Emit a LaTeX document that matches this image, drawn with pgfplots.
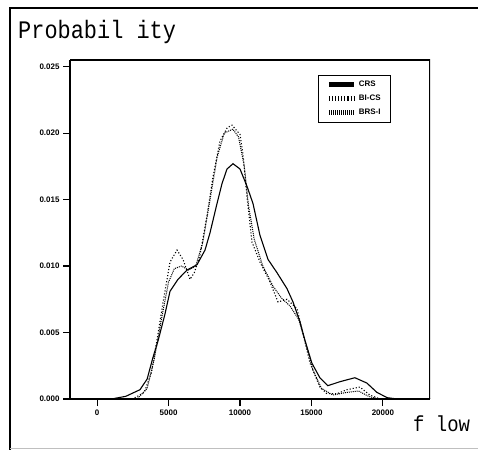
\documentclass[border=0pt]{standalone}
\usepackage{fontspec}
\setmainfont{Liberation Sans}
\newfontfamily\mono{Liberation Mono}
\usepackage{pgfplots}
\pgfplotsset{compat=1.18}
\begin{document}
\begin{tikzpicture}
\useasboundingbox (0,0) rectangle (478bp,450bp);
\fill[white] (0,0) rectangle (478bp,450bp);
\draw[line width=1.2bp] (10bp,0) -- (10bp,442bp) -- (478bp,442bp);
\draw[gray!50, line width=0.8bp] (10bp,2bp) -- (478bp,2bp);
\node[anchor=west, font=\mono\fontsize{22}{24}\selectfont, inner sep=0pt, yscale=1.15] at (18bp,418bp) {Probabil ity};
\node[anchor=west, font=\mono\fontsize{19}{21}\selectfont, inner sep=0pt, yscale=1.15] at (413bp,26bp) {f low};
\begin{axis}[
  at={(70bp,51bp)}, anchor=south west,
  scale only axis, width=360bp, height=339bp,
  xmin=-1900, xmax=23300, ymin=0, ymax=0.0255,
  xtick={0,5000,10000,15000,20000},
  ytick={0,0.005,0.010,0.015,0.020,0.025},
  yticklabel style={/pgf/number format/.cd, fixed, fixed zerofill, precision=3},
  xticklabel style={/pgf/number format/.cd, fixed, 1000 sep={}},
  scaled ticks=false,
  /pgf/number format/assume math mode=true,
  tick label style={font=\fontsize{8}{9}\selectfont\bfseries},
  tick align=outside, major tick length=7bp,
  tick style={line width=1.2bp, black},
  axis line style={line width=1.8bp},
  axis x line*=bottom, axis y line*=left,
  legend style={at={(0.689,0.956)}, anchor=north west, draw=black, line width=0.8bp,
    font=\fontsize{8}{9}\selectfont\bfseries, inner xsep=8pt, inner ysep=4pt, row sep=3pt},
  legend cell align=left,
  legend image code/.code={\draw[#1, line width=5bp] (0cm,0cm) -- (0.9cm,0cm);},
]
\draw[line width=1.5bp] (rel axis cs:0,1) -- (rel axis cs:1,1) -- (rel axis cs:1,0);
\addplot[black, line width=1.1bp] coordinates {
(-1900,0) (1000,0) (2000,0.0002) (3000,0.0007) (3500,0.0015) (3900,0.0031) (4270,0.0044)
(4750,0.0064) (5100,0.0081) (5660,0.0090) (6290,0.0097) (6990,0.0101) (7550,0.0112)
(7900,0.0125) (8390,0.0147) (8740,0.0162) (9090,0.0173) (9510,0.0177) (10000,0.0173)
(10490,0.0160) (10910,0.0147) (11400,0.0123) (11960,0.0105) (12590,0.0095) (13290,0.0083)
(13710,0.0073) (14200,0.0058) (14550,0.0044) (15030,0.0027) (15590,0.0016) (16150,0.0010)
(16990,0.0013) (18040,0.0016) (18880,0.0012) (19580,0.0005) (20300,0.0001) (21000,0) (23300,0)};
\addlegendentry{CRS}
\addplot[black, line width=1.1bp, dotted] coordinates {
(-1900,0) (2500,0) (3300,0.0005) (3800,0.0020) (4200,0.0045) (4620,0.0073) (5100,0.0103)
(5590,0.0112) (6010,0.0105) (6500,0.0090) (6800,0.0095) (7200,0.0108) (7690,0.0138)
(8110,0.0167) (8600,0.0194) (9100,0.0204) (9440,0.0206) (10000,0.0199) (10210,0.0184)
(10490,0.0152) (10840,0.0118) (11400,0.0103) (12100,0.0088) (12660,0.0073) (13290,0.0075)
(13990,0.0068) (14410,0.0049) (14900,0.0027) (15590,0.0009) (16080,0.0004) (16800,0.0004)
(17480,0.0007) (18390,0.0009) (19090,0.0003) (19800,0) (23300,0)};
\addlegendentry{BI-CS}
\addplot[black, line width=1.0bp, densely dotted] coordinates {
(-1900,0) (2800,0) (3500,0.0008) (4000,0.0030) (4500,0.0060) (5000,0.0088) (5400,0.0098)
(5900,0.0100) (6400,0.0097) (6900,0.0100) (7400,0.0118) (7900,0.0150) (8400,0.0182)
(8900,0.0200) (9500,0.0203) (9900,0.0197) (10300,0.0175) (10600,0.0145) (11000,0.0120)
(11600,0.0100) (12300,0.0085) (12900,0.0076) (13500,0.0070) (14100,0.0060) (14600,0.0042)
(15100,0.0022) (15700,0.0008) (16500,0.0003) (17500,0.0005) (18300,0.0006) (19000,0.0002)
(19700,0) (23300,0)};
\addlegendentry{BRS-I}
\end{axis}
\end{tikzpicture}
\end{document}
